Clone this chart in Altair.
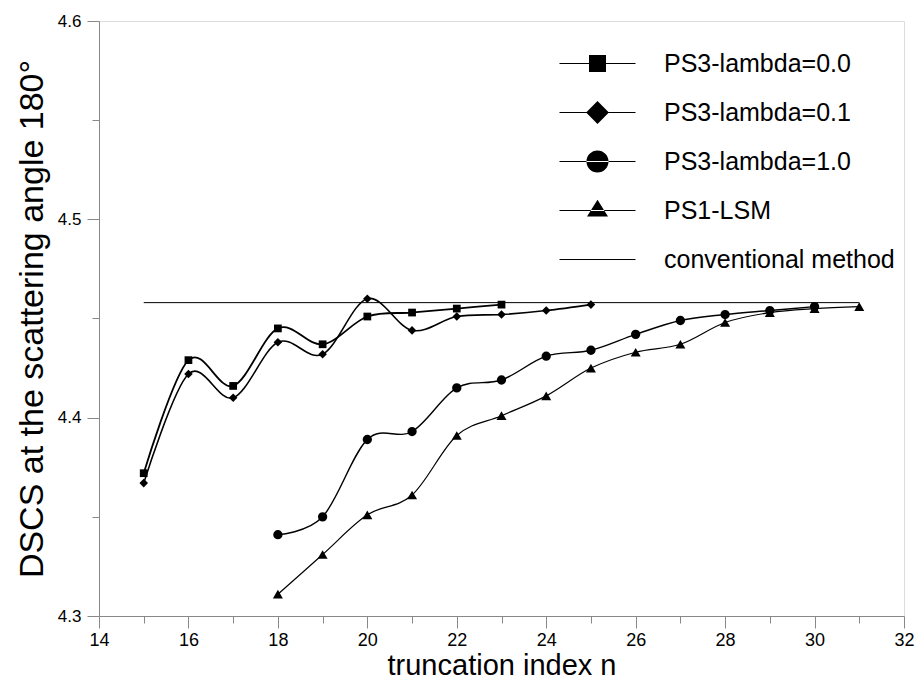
import altair as alt
import pandas as pd

# ---- data ----
n_ps3_00 = [15, 16, 17, 18, 19, 20, 21, 22, 23]
v_ps3_00 = [4.372, 4.429, 4.416, 4.445, 4.437, 4.451, 4.453, 4.455, 4.457]

n_ps3_01 = [15, 16, 17, 18, 19, 20, 21, 22, 23, 24, 25]
v_ps3_01 = [4.367, 4.422, 4.410, 4.438, 4.432, 4.460, 4.444, 4.451, 4.452, 4.454, 4.457]

n_ps3_10 = [18, 19, 20, 21, 22, 23, 24, 25, 26, 27, 28, 29, 30]
v_ps3_10 = [4.341, 4.350, 4.389, 4.393, 4.415, 4.419, 4.431, 4.434, 4.442, 4.449, 4.452, 4.454, 4.456]

n_ps1 = [18, 19, 20, 21, 22, 23, 24, 25, 26, 27, 28, 29, 30, 31]
v_ps1 = [4.311, 4.331, 4.351, 4.361, 4.391, 4.401, 4.411, 4.425, 4.433, 4.437, 4.448, 4.453, 4.455, 4.456]

n_conv = [15, 31]
v_conv = [4.458, 4.458]

series_names = ["PS3-lambda=0.0", "PS3-lambda=0.1", "PS3-lambda=1.0", "PS1-LSM", "conventional method"]
x_ticks = list(range(14, 33))
y_ticks = [4.30, 4.35, 4.40, 4.45, 4.50, 4.55, 4.60]

rows = []
for name, ns, vs in [
    (series_names[0], n_ps3_00, v_ps3_00),
    (series_names[1], n_ps3_01, v_ps3_01),
    (series_names[2], n_ps3_10, v_ps3_10),
    (series_names[3], n_ps1, v_ps1),
    (series_names[4], n_conv, v_conv),
]:
    for n, v in zip(ns, vs):
        rows.append({"series": name, "n": n, "v": v})
df = pd.DataFrame(rows)

FONT = "Liberation Sans"

x_enc = alt.X(
    "n:Q",
    scale=alt.Scale(domain=[14, 32], nice=False, zero=False),
    axis=alt.Axis(
        values=x_ticks,
        labelExpr="datum.value % 2 === 0 ? datum.label : ''",
        tickSize={"expr": "datum.value % 2 === 0 ? 12 : 7"},
        grid=False,
        title="truncation index n",
        titleFontSize=29,
        titleFontWeight="normal",
        titlePadding=2,
        labelFontSize=18,
        labelPadding=3,
        labelFlush=False,
    ),
)
y_enc = alt.Y(
    "v:Q",
    scale=alt.Scale(domain=[4.3, 4.6], nice=False, zero=False),
    axis=alt.Axis(
        values=y_ticks,
        labelExpr="abs(datum.value*10 - round(datum.value*10)) < 0.001 ? format(datum.value, '.1f') : ''",
        tickSize={"expr": "abs(datum.value*10 - round(datum.value*10)) < 0.001 ? 12 : 7"},
        grid=False,
        title="DSCS at the scattering angle 180°",
        titleFontSize=34,
        titleFontWeight="normal",
        titlePadding=8,
        labelFontSize=17,
        labelPadding=6,
        labelFlush=False,
    ),
)

lines = alt.Chart(df).mark_line(interpolate="cardinal", color="black").encode(
    x=x_enc,
    y=y_enc,
    detail="series:N",
    strokeWidth=alt.StrokeWidth(
        "series:N",
        scale=alt.Scale(domain=series_names, range=[1.8, 1, 1, 1, 1]),
        legend=None,
    ),
)

points = (
    alt.Chart(df)
    .transform_filter(alt.datum.series != "conventional method")
    .mark_point(filled=True, color="black", opacity=1)
    .encode(
        x="n:Q",
        y="v:Q",
        shape=alt.Shape(
            "series:N",
            scale=alt.Scale(domain=series_names[:4], range=["square", "diamond", "circle", "triangle-up"]),
            legend=None,
        ),
        size=alt.Size(
            "series:N",
            scale=alt.Scale(domain=series_names[:4], range=[60, 100, 90, 85]),
            legend=None,
        ),
    )
)

# legend symbols: a thin bar with a marker on it (unit = 12px)
bar = "M-3.167,-0.042H3.167V0.042H-3.167Z"
leg_paths = [
    bar + "M-0.708,-0.708H0.708V0.708H-0.708Z",
    bar + "M-0.95,0L0,-0.95L0.95,0L0,0.95Z",
    bar + "M-0.92,0A0.92,0.92,0,1,0,0.92,0A0.92,0.92,0,1,0,-0.92,0Z",
    bar + "M-0.875,0.5L0.875,0.5L0,-0.9Z",
    bar,
]

legend_layer = alt.Chart(df).mark_point(filled=True, color="black", opacity=0).encode(
    x="n:Q",
    y="v:Q",
    shape=alt.Shape(
        "series:N",
        scale=alt.Scale(domain=series_names, range=leg_paths),
        legend=alt.Legend(
            title=None,
            orient="none",
            legendX=486,
            legendY=30,
            symbolSize=576,
            symbolFillColor="black",
            symbolStrokeWidth=0,
            symbolOpacity=1,
            labelFontSize=25,
            labelFont=FONT,
            labelColor="black",
            labelOffset=54,
            rowPadding=23,
            padding=0,
            labelLimit=400,
        ),
    ),
)

chart = (
    alt.layer(lines, points, legend_layer)
    .resolve_scale(shape="independent", size="independent")
    .properties(
        width=805,
        height=595,
        autosize=alt.AutoSizeParams(type="none"),
        padding={"left": 91, "top": 13, "right": 12, "bottom": 66},
    )
    .configure_view(stroke="black", strokeWidth=1)
    .configure_axis(
        domainColor="black",
        tickColor="black",
        labelColor="black",
        titleColor="black",
        labelFont=FONT,
        titleFont=FONT,
        domainWidth=1,
        tickWidth=1,
    )
    .configure(background="white")
)

chart.save("out.html", embed_options={"renderer": "svg", "actions": False})
